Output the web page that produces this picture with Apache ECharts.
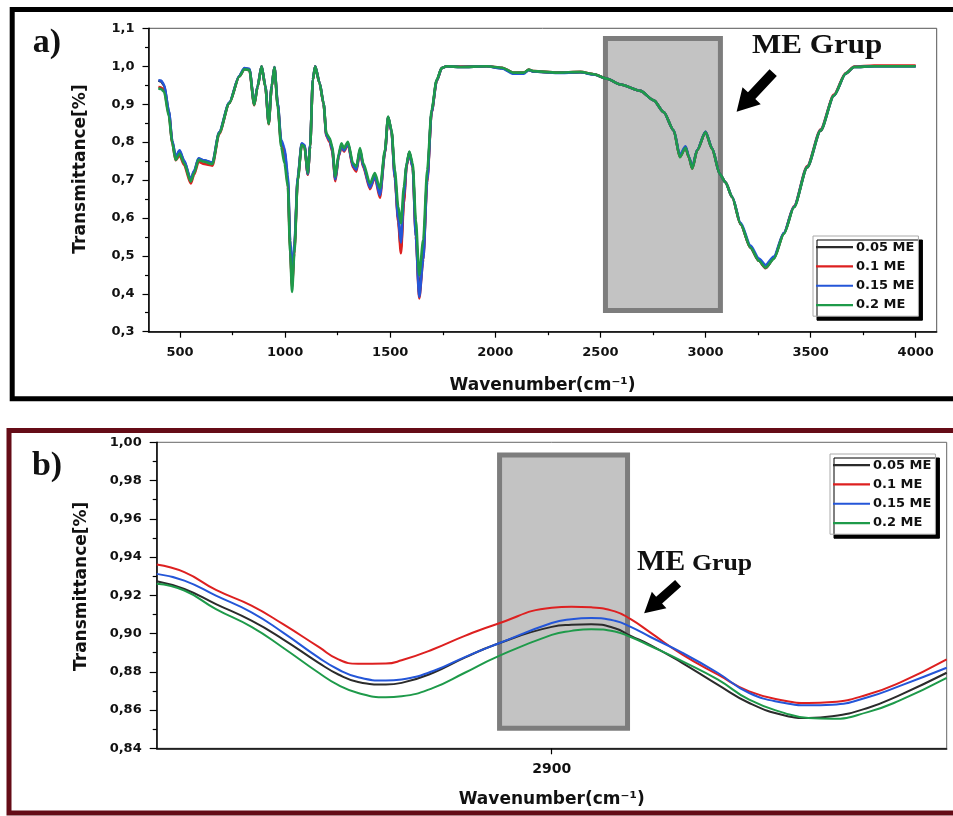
<!DOCTYPE html>
<html>
<head>
<meta charset="utf-8">
<script src="https://cdn.jsdelivr.net/npm/echarts@6/dist/echarts.min.js"></script>
<style>
html,body{margin:0;padding:0;background:#fff;}
#chart{width:953px;height:816px;}
</style>
</head>
<body>
<div id="chart"></div>
<script>
// ---------- DATA ----------
const seriesNames = ['0.05 ME', '0.1 ME', '0.15 ME', '0.2 ME'];
const seriesColors = ['#2b2b2b', '#dd2020', '#2456d8', '#1e9a4a'];

// Panel a) : full FTIR spectrum
const topWave = [397,410,424,447,463,479,498,519,551,567,
  588,615,654,686,734,782,806,830,853,869,
  888,906,922,936,949,965,981,997,1013,1024,
  1033,1044,1060,1079,1092,1108,1119,1132,1143,1164,
  1183,1196,1212,1224,1239,1255,1268,1280,1299,1323,
  1339,1356,1372,1404,1427,1451,1475,1490,1506,1522,
  1538,1551,1565,1578,1591,1607,1622,1638,1657,1676,
  1697,1721,1745,1769,1833,1960,2032,2087,2135,2159,
  2182,2294,2405,2468,2532,2595,2690,2754,2801,2849,
  2878,2905,2921,2937,2960,3000,3032,3068,3095,3127,
  3167,3214,3254,3286,3325,3373,3421,3484,3548,3611,
  3667,3707,3802,4000];
const topBlack = [0.962,0.960,0.950,0.880,0.802,0.760,0.776,0.750,0.700,0.722,
  0.756,0.751,0.745,0.825,0.903,0.974,0.994,0.992,0.900,0.947,
  1.000,0.947,0.850,0.947,0.998,0.900,0.800,0.775,0.700,0.530,
  0.425,0.520,0.705,0.795,0.790,0.715,0.790,0.965,1.000,0.956,
  0.902,0.820,0.806,0.782,0.703,0.766,0.792,0.779,0.797,0.738,
  0.728,0.780,0.738,0.683,0.712,0.664,0.775,0.866,0.830,0.712,
  0.600,0.520,0.650,0.740,0.774,0.735,0.560,0.400,0.500,0.705,
  0.880,0.962,0.995,1.000,0.998,1.000,0.995,0.982,0.982,0.990,
  0.986,0.983,0.984,0.979,0.967,0.952,0.935,0.910,0.879,0.830,
  0.762,0.787,0.760,0.731,0.778,0.827,0.782,0.716,0.694,0.654,
  0.583,0.521,0.487,0.468,0.493,0.559,0.629,0.733,0.830,0.922,
  0.980,0.998,1.000,1.000];
const topRed = [0.945,0.944,0.938,0.872,0.798,0.752,0.765,0.740,0.691,0.714,
  0.748,0.742,0.738,0.821,0.902,0.973,0.992,0.990,0.897,0.946,
  1.000,0.946,0.847,0.946,0.997,0.896,0.795,0.768,0.690,0.520,
  0.418,0.515,0.702,0.793,0.788,0.714,0.789,0.964,1.000,0.955,
  0.900,0.816,0.800,0.776,0.697,0.762,0.788,0.775,0.794,0.733,
  0.722,0.776,0.733,0.676,0.707,0.653,0.772,0.865,0.828,0.705,
  0.590,0.507,0.640,0.736,0.772,0.732,0.552,0.388,0.490,0.695,
  0.878,0.961,0.995,1.000,0.999,1.000,0.996,0.983,0.983,0.991,
  0.987,0.983,0.985,0.979,0.967,0.952,0.935,0.910,0.879,0.831,
  0.761,0.786,0.760,0.730,0.778,0.826,0.782,0.716,0.694,0.655,
  0.584,0.522,0.487,0.468,0.494,0.560,0.631,0.737,0.834,0.925,
  0.982,0.999,1.002,1.002];
const topBlue = [0.963,0.962,0.952,0.882,0.804,0.762,0.778,0.752,0.702,0.724,
  0.757,0.752,0.746,0.826,0.904,0.975,0.995,0.993,0.901,0.948,
  1.000,0.948,0.852,0.948,0.998,0.902,0.806,0.785,0.712,0.540,
  0.440,0.530,0.708,0.797,0.792,0.716,0.792,0.966,1.000,0.956,
  0.902,0.818,0.804,0.780,0.702,0.765,0.791,0.778,0.796,0.737,
  0.727,0.779,0.737,0.680,0.710,0.660,0.774,0.866,0.829,0.708,
  0.598,0.535,0.660,0.740,0.773,0.733,0.550,0.392,0.490,0.700,
  0.880,0.962,0.995,1.000,0.998,1.000,0.994,0.980,0.980,0.990,
  0.986,0.982,0.984,0.978,0.967,0.952,0.935,0.910,0.879,0.831,
  0.766,0.789,0.762,0.733,0.779,0.827,0.783,0.716,0.694,0.656,
  0.587,0.527,0.493,0.476,0.498,0.561,0.630,0.735,0.832,0.923,
  0.981,0.998,1.000,1.000];
const topGreen = [0.942,0.940,0.933,0.867,0.797,0.753,0.770,0.744,0.696,0.718,
  0.753,0.748,0.742,0.823,0.902,0.973,0.992,0.990,0.898,0.946,
  1.000,0.946,0.848,0.946,0.997,0.893,0.788,0.744,0.682,0.507,
  0.405,0.507,0.700,0.792,0.788,0.718,0.788,0.964,0.999,0.955,
  0.902,0.823,0.810,0.788,0.709,0.770,0.797,0.784,0.801,0.744,
  0.735,0.784,0.744,0.691,0.718,0.678,0.779,0.867,0.832,0.726,
  0.630,0.586,0.682,0.744,0.775,0.744,0.594,0.449,0.542,0.726,
  0.885,0.964,0.995,1.000,0.998,1.000,0.996,0.983,0.983,0.991,
  0.987,0.983,0.985,0.979,0.967,0.952,0.935,0.910,0.879,0.831,
  0.760,0.785,0.760,0.730,0.778,0.826,0.782,0.716,0.694,0.655,
  0.584,0.522,0.487,0.469,0.492,0.558,0.628,0.734,0.831,0.923,
  0.981,0.998,1.000,1.000];
const topXTickValues = [500,1000,1500,2000,2500,3000,3500,4000];
const topXMinorTicks = [750,1250,1750,2250,2750,3250,3750];
const topBand = [2524, 1.0731, 3071, 0.3559];      // ME group box (x1,y1,x2,y2)

// Panel b) : zoom around 2900 cm-1
const botWave = [2850,2853.5,2857.5,2862,2866,2870.5,2873,2875.5,2879,2881,
  2885,2889,2893,2900,2902.5,2905,2908,2910,2912.5,2916.5,
  2921,2925,2929.5,2932.5,2935.5,2940,2944,2950];
const botBlack = [0.9274,0.9233,0.9154,0.9067,0.897,0.8847,0.8786,0.8747,0.8733,0.8742,
  0.8795,0.8874,0.8944,0.9035,0.9046,0.9049,0.9028,0.8988,0.894,0.8847,
  0.8733,0.8637,0.8572,0.8558,0.8567,0.8611,0.8677,0.8795];
const botRed = [0.9361,0.9321,0.9228,0.9146,0.9049,0.893,0.8865,0.8842,0.8843,0.886,
  0.8918,0.8988,0.9049,0.9135,0.914,0.9137,0.9116,0.9075,0.9005,0.8891,
  0.8786,0.8698,0.8649,0.8637,0.8642,0.8681,0.8742,0.8865];
const botBlue = [0.9312,0.9277,0.9198,0.9111,0.9005,0.8874,0.8812,0.8772,0.8754,0.876,
  0.8804,0.8877,0.8944,0.9055,0.9075,0.9081,0.9067,0.9035,0.8982,0.89,
  0.8795,0.8689,0.8637,0.8625,0.8628,0.8667,0.8725,0.8821];
const botGreen = [0.926,0.9225,0.9128,0.9035,0.8926,0.8795,0.873,0.8689,0.8667,0.8672,
  0.8716,0.8795,0.8877,0.8993,0.9014,0.9023,0.9011,0.8982,0.8935,0.8856,
  0.876,0.8654,0.8584,0.8558,0.8554,0.8589,0.8649,0.8768];
const botXTickValues = [2900];
const botBand = [2893.4, 0.9933, 2909.6, 0.8505];

// annotation arrows in data coordinates: [tipX, tipY, tailX, tailY]
const topArrow = [3148, 0.880, 3322, 0.983];
const botArrow = [2911.7, 0.9106, 2916.0, 0.9263];

// ---------- CHART ----------
const chart = echarts.init(document.getElementById('chart'), null, {renderer: 'canvas'});
const FONT = 'DejaVu Sans';
const labelStyle = {fontFamily: FONT, fontWeight: 'bold', fontSize: 13, color: '#111'};
const titleStyle = {fontFamily: FONT, fontWeight: 'bold', fontSize: 17, color: '#111'};
const axisLineStyle = {color: '#000', width: 1.5};

function pairs(xs, ys) { return xs.map((x, i) => [x, ys[i]]); }

const topVals = [topBlack, topRed, topBlue, topGreen];
const botVals = [botBlack, botRed, botBlue, botGreen];

const series = [];
series.push({
  type: 'line', xAxisIndex: 0, yAxisIndex: 0, data: [], z: 1, silent: true,
  markArea: {silent: true, itemStyle: {color: '#c3c3c3', borderColor: '#7d7d7d', borderWidth: 5},
    data: [[{xAxis: topBand[0], yAxis: topBand[1]}, {xAxis: topBand[2], yAxis: topBand[3]}]]}
});
series.push({
  type: 'line', xAxisIndex: 2, yAxisIndex: 1, data: [], z: 1, silent: true,
  markArea: {silent: true, itemStyle: {color: '#c3c3c3', borderColor: '#7d7d7d', borderWidth: 5},
    data: [[{xAxis: botBand[0], yAxis: botBand[1]}, {xAxis: botBand[2], yAxis: botBand[3]}]]}
});
seriesNames.forEach((n, i) => {
  series.push({
    name: n, type: 'line', xAxisIndex: 0, yAxisIndex: 0, z: 3 + i,
    data: pairs(topWave, topVals[i]), symbol: 'none', smooth: 0.25, smoothMonotone: 'x',
    lineStyle: {color: seriesColors[i], width: 2.6}, itemStyle: {color: seriesColors[i]}
  });
});
seriesNames.forEach((n, i) => {
  series.push({
    name: n, type: 'line', xAxisIndex: 2, yAxisIndex: 1, z: 3 + i,
    data: pairs(botWave, botVals[i]), symbol: 'none', smooth: true,
    lineStyle: {color: seriesColors[i], width: 2}, itemStyle: {color: seriesColors[i]}
  });
});

const legendBase = {
  data: seriesNames, orient: 'vertical', icon: 'rect', itemWidth: 37, itemHeight: 2.2, itemGap: 5,
  padding: [4, 4, 4, 3], backgroundColor: '#fff', borderColor: '#aaa', borderWidth: 1,
  shadowColor: '#000', shadowBlur: 0, shadowOffsetX: 4, shadowOffsetY: 4,
  textStyle: {fontFamily: FONT, fontWeight: 'bold', fontSize: 13, lineHeight: 14.3, color: '#111', padding: [0, 0, 0, -2]},
  selectedMode: false
};

const intFmt = v => String(Math.round(v));

const option = {
  backgroundColor: '#fff',
  animation: false,
  grid: [
    {left: 148.5, top: 28.3, width: 788.2, height: 303.4, show: true, borderColor: '#555', borderWidth: 1},
    {left: 156.7, top: 442.3, width: 790, height: 306, show: true, borderColor: '#666', borderWidth: 1}
  ],
  xAxis: [
    {gridIndex: 0, type: 'value', min: 350, max: 4100,
      axisLine: {show: true, onZero: false, lineStyle: axisLineStyle},
      axisTick: {show: true, customValues: topXTickValues, length: 6, lineStyle: {color: '#000', width: 1.2}},
      axisLabel: {customValues: topXTickValues, margin: 14, ...labelStyle, formatter: intFmt},
      splitLine: {show: false},
      name: 'Wavenumber(cm⁻¹)', nameLocation: 'middle', nameGap: 45, nameTextStyle: titleStyle},
    {gridIndex: 0, type: 'value', min: 350, max: 4100, position: 'bottom',
      axisLine: {show: false, onZero: false},
      axisTick: {show: true, customValues: topXMinorTicks, length: 3.5, lineStyle: {color: '#000', width: 1.2}},
      axisLabel: {show: false}, splitLine: {show: false}},
    {gridIndex: 1, type: 'value', min: 2850, max: 2950,
      axisLine: {show: true, onZero: false, lineStyle: axisLineStyle},
      axisTick: {show: true, customValues: botXTickValues, length: 6, lineStyle: {color: '#000', width: 1.2}},
      axisLabel: {customValues: botXTickValues, margin: 14, ...labelStyle, fontSize: 14, formatter: intFmt},
      splitLine: {show: false},
      name: 'Wavenumber(cm⁻¹)', nameLocation: 'middle', nameGap: 43, nameTextStyle: titleStyle}
  ],
  yAxis: [
    {gridIndex: 0, type: 'value', min: 0.3, max: 1.1, interval: 0.1,
      axisLine: {show: true, onZero: false, lineStyle: axisLineStyle},
      axisTick: {show: true, length: 6, lineStyle: {color: '#000', width: 1.2}},
      minorTick: {show: true, splitNumber: 2, length: 3.5, lineStyle: {color: '#000', width: 1.2}},
      axisLabel: {margin: 14, ...labelStyle, formatter: v => v.toFixed(1).replace('.', ',')},
      splitLine: {show: false},
      name: 'Transmittance[%]', nameLocation: 'middle', nameRotate: 90, nameGap: 59,
      nameTextStyle: {...titleStyle, padding: [0, 0, 0, 22]}},
    {gridIndex: 1, type: 'value', min: 0.84, max: 1.0, interval: 0.02,
      axisLine: {show: true, onZero: false, lineStyle: axisLineStyle},
      axisTick: {show: true, length: 7, lineStyle: {color: '#000', width: 1.2}},
      minorTick: {show: true, splitNumber: 2, length: 4, lineStyle: {color: '#000', width: 1.2}},
      axisLabel: {margin: 15, ...labelStyle, formatter: v => v.toFixed(2).replace('.', ',')},
      splitLine: {show: false},
      name: 'Transmittance[%]', nameLocation: 'middle', nameRotate: 90, nameGap: 67,
      nameTextStyle: {...titleStyle, padding: [0, 0, 0, 18]}}
  ],
  legend: [
    {...legendBase, left: 813, top: 236},
    {...legendBase, left: 830, top: 454}
  ],
  series: series,
  graphic: [
    {id: 'frameA', type: 'rect', z: 100, silent: true,
      shape: {x: 12.2, y: 9.5, width: 960, height: 389.3},
      style: {fill: null, stroke: '#000', lineWidth: 5}},
    {id: 'frameB', type: 'rect', z: 100, silent: true,
      shape: {x: 9, y: 430.4, width: 960, height: 382.6},
      style: {fill: null, stroke: '#650c17', lineWidth: 5}},
    {id: 'labA', type: 'text', z: 100, x: 47, y: 43,
      style: {text: 'a)', fontFamily: 'Liberation Serif', fontWeight: 'bold', fontSize: 34, fill: '#111', align: 'center', verticalAlign: 'middle'}},
    {id: 'labB', type: 'text', z: 100, x: 47, y: 466,
      style: {text: 'b)', fontFamily: 'Liberation Serif', fontWeight: 'bold', fontSize: 34, fill: '#111', align: 'center', verticalAlign: 'middle'}},
    {id: 'meA', type: 'text', z: 100, x: 752, y: 46, scaleX: 1.15,
      style: {text: 'ME Grup', fontFamily: 'Liberation Serif', fontWeight: 'bold', fontSize: 27, fill: '#111', align: 'left', verticalAlign: 'middle'}},
    {id: 'meB1', type: 'text', z: 100, x: 637, y: 562,
      style: {text: 'ME', fontFamily: 'Liberation Serif', fontWeight: 'bold', fontSize: 30, fill: '#111', align: 'left', verticalAlign: 'middle'}},
    {id: 'meB2', type: 'text', z: 100, x: 692, y: 564, scaleX: 1.12,
      style: {text: 'Grup', fontFamily: 'Liberation Serif', fontWeight: 'bold', fontSize: 23, fill: '#111', align: 'left', verticalAlign: 'middle'}}
  ]
};
chart.setOption(option);

function arrowPolygon(tip, tail, headLen, headHalf, shaftHalf) {
  const dx = tip[0] - tail[0], dy = tip[1] - tail[1];
  const L = Math.hypot(dx, dy);
  const ux = dx / L, uy = dy / L, nx = -uy, ny = ux;
  const bx = tip[0] - ux * headLen, by = tip[1] - uy * headLen;
  return [
    [tail[0] + nx * shaftHalf, tail[1] + ny * shaftHalf],
    [bx + nx * shaftHalf, by + ny * shaftHalf],
    [bx + nx * headHalf, by + ny * headHalf],
    [tip[0], tip[1]],
    [bx - nx * headHalf, by - ny * headHalf],
    [bx - nx * shaftHalf, by - ny * shaftHalf],
    [tail[0] - nx * shaftHalf, tail[1] - ny * shaftHalf]
  ];
}
const tA1 = chart.convertToPixel({xAxisIndex: 0, yAxisIndex: 0}, [topArrow[0], topArrow[1]]);
const tA2 = chart.convertToPixel({xAxisIndex: 0, yAxisIndex: 0}, [topArrow[2], topArrow[3]]);
const tB1 = chart.convertToPixel({xAxisIndex: 2, yAxisIndex: 1}, [botArrow[0], botArrow[1]]);
const tB2 = chart.convertToPixel({xAxisIndex: 2, yAxisIndex: 1}, [botArrow[2], botArrow[3]]);
chart.setOption({
  graphic: [
    {id: 'arrowA', type: 'polygon', z: 100, silent: true,
      shape: {points: arrowPolygon(tA1, tA2, 22, 12.5, 5)}, style: {fill: '#000'}},
    {id: 'arrowB', type: 'polygon', z: 100, silent: true,
      shape: {points: arrowPolygon(tB1, tB2, 20, 11, 4.5)}, style: {fill: '#000'}}
  ]
});
</script>
</body>
</html>
